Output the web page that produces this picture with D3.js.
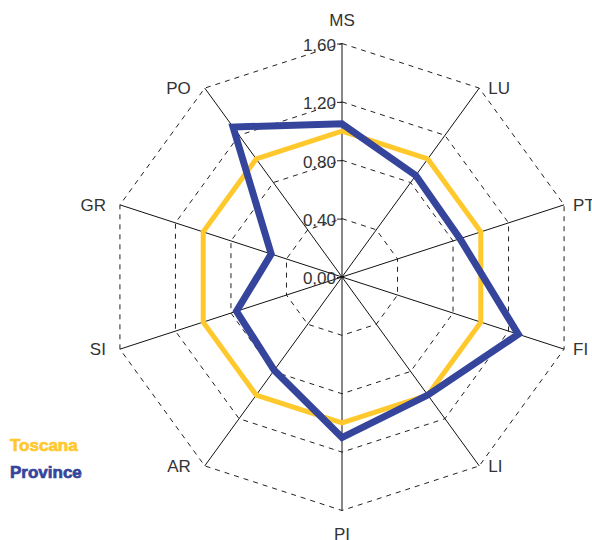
<!DOCTYPE html>
<html>
<head>
<meta charset="utf-8">
<script src="https://cdn.jsdelivr.net/npm/d3@7"></script>
<style>
  body { margin: 0; background: #fff; }
  text { font-family: "Liberation Sans", Arial, sans-serif; }
</style>
</head>
<body>
<div id="chart"></div>
<script>
// data
const axes = ["MS", "LU", "PT", "FI", "LI", "PI", "AR", "SI", "GR", "PO"];
const toscana = [1.00, 1.00, 1.00, 1.00, 1.00, 1.00, 1.00, 1.00, 1.00, 1.00];
const province = [1.05, 0.86, 0.85, 1.27, 1.00, 1.10, 0.79, 0.76, 0.51, 1.27];
const ticks = [0, 0.4, 0.8, 1.2, 1.6];

const W = 592, H = 540;
const cx = 342, cy = 277;
const R = 233.5;

const svg = d3.select("#chart").append("svg")
  .attr("width", W)
  .attr("height", H);

const r = d3.scaleLinear().domain([0, 1.6]).range([0, R]);
const angle = d3.scaleLinear().domain([0, axes.length]).range([0, 2 * Math.PI]);

function pt(i, v) {
  const a = angle(i);
  return [cx + r(v) * Math.sin(a), cy - r(v) * Math.cos(a)];
}

const g = svg.append("g");

// dashed grid polygons
ticks.slice(1).forEach(t => {
  const pts = axes.map((d, i) => pt(i, t));
  g.append("polygon")
    .attr("points", pts.map(p => p.join(",")).join(" "))
    .attr("fill", "none")
    .attr("stroke", "#222")
    .attr("stroke-width", 1)
    .attr("stroke-dasharray", "5,5");
});

// spokes
axes.forEach((d, i) => {
  const [x2, y2] = pt(i, 1.6);
  g.append("line")
    .attr("x1", cx).attr("y1", cy)
    .attr("x2", x2).attr("y2", y2)
    .attr("stroke", "#111")
    .attr("stroke-width", 1);
});

// value scale on MS axis
const axisY = d3.scaleLinear().domain([0, 1.6]).range([cy, cy - R]);
const yAxis = g.append("g")
  .attr("transform", `translate(${cx},0)`)
  .call(d3.axisLeft(axisY).tickValues(ticks).tickSize(5).tickPadding(1)
    .tickFormat(d => d3.format(".2f")(d).replace(".", ",")));
yAxis.select(".domain").remove();
yAxis.selectAll("line").attr("stroke", "#222");
yAxis.selectAll("text")
  .attr("fill", "#333")
  .style("font-size", "17px")
  .attr("dy", "0.4em");

// series
const line = d3.line().curve(d3.curveLinearClosed);
g.append("path")
  .datum(toscana.map((v, i) => pt(i, v)))
  .attr("d", line)
  .attr("fill", "none")
  .attr("stroke", "#FFC82C")
  .attr("stroke-width", 5)
  .attr("stroke-linejoin", "miter");
g.append("path")
  .datum(province.map((v, i) => pt(i, v)))
  .attr("d", line)
  .attr("fill", "none")
  .attr("stroke", "#36459C")
  .attr("stroke-width", 7)
  .attr("stroke-linejoin", "miter");

// axis labels
axes.forEach((d, i) => {
  const a = angle(i);
  const s = Math.sin(a), c = Math.cos(a);
  const [ex, ey] = pt(i, 1.6);
  let x = ex, y = ey, anchor = "middle";
  if (Math.abs(s) < 0.01) {
    y = c > 0 ? ey - 18 : ey + 29;
  } else if (s > 0) {
    anchor = "start"; x = ex + 9; y = ey + 6;
  } else {
    anchor = "end"; x = ex - 14; y = ey + 6;
  }
  g.append("text")
    .attr("x", x).attr("y", y)
    .attr("text-anchor", anchor)
    .attr("fill", "#333")
    .style("font-size", "17px")
    .text(d);
});

// legend
const legend = svg.append("g");
[["Toscana", "#FFC82C", 451], ["Province", "#36459C", 478]].forEach(([name, col, y]) => {
  legend.append("text")
    .attr("x", 10).attr("y", y)
    .attr("fill", col)
    .attr("stroke", col)
    .attr("stroke-width", 0.7)
    .style("font-size", "17px")
    .style("font-weight", "bold")
    .text(name);
});
</script>
</body>
</html>
